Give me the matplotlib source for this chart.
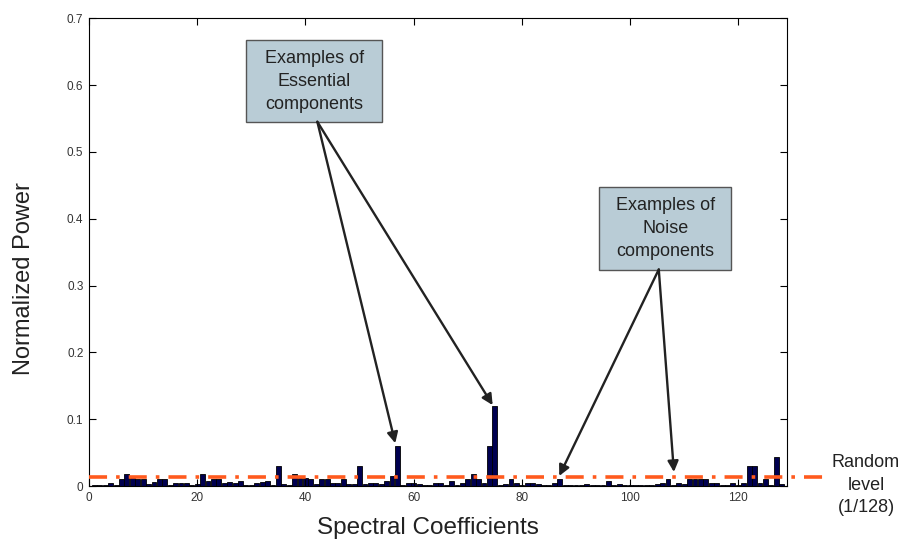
import matplotlib
matplotlib.use('agg')
from matplotlib import pyplot as plt
from matplotlib.patches import Rectangle
import numpy as np

plt.rcParams['font.family'] = ['Liberation Sans', 'DejaVu Sans']

# coefficient index 1..128 and its normalized power
coefficients = np.arange(1, 129)
power = [
    0.002, 0.002, 0.001, 0.004, 0.002, 0.010, 0.018, 0.012, 0.010, 0.010,
    0.003, 0.006, 0.010, 0.010, 0.002, 0.004, 0.004, 0.004, 0.002, 0.003,
    0.018, 0.008, 0.010, 0.010, 0.005, 0.006, 0.004, 0.008, 0.002, 0.002,
    0.004, 0.006, 0.008, 0.002, 0.030, 0.003, 0.002, 0.018, 0.012, 0.012,
    0.010, 0.003, 0.010, 0.010, 0.004, 0.004, 0.010, 0.003, 0.003, 0.030,
    0.003, 0.004, 0.004, 0.003, 0.008, 0.015, 0.060, 0.002, 0.004, 0.004,
    0.003, 0.001, 0.002, 0.004, 0.004, 0.002, 0.008, 0.002, 0.004, 0.010,
    0.018, 0.010, 0.004, 0.060, 0.120, 0.002, 0.003, 0.010, 0.004, 0.002,
    0.004, 0.004, 0.003, 0.001, 0.002, 0.004, 0.010, 0.002, 0.001, 0.001,
    0.002, 0.003, 0.001, 0.001, 0.001, 0.008, 0.002, 0.003, 0.001, 0.002,
    0.002, 0.001, 0.002, 0.001, 0.003, 0.004, 0.010, 0.002, 0.004, 0.003,
    0.010, 0.010, 0.010, 0.010, 0.004, 0.004, 0.002, 0.002, 0.004, 0.002,
    0.004, 0.030, 0.030, 0.004, 0.010, 0.002, 0.043, 0.003,
]
random_level = 0.0135  # drawn where the reference puts the 1/128 line

x_ticks = [0, 20, 40, 60, 80, 100, 120]
y_ticks = [0, 0.1, 0.2, 0.3, 0.4, 0.5, 0.6, 0.7]
y_tick_labels = ['0', '0.1', '0.2', '0.3', '0.4', '0.5', '0.6', '0.7']

fig = plt.figure(figsize=(9.13, 5.44), dpi=100)
ax = fig.add_axes([0.0975, 0.1066, 0.7645, 0.860])

ax.bar(coefficients, power, width=0.9, color='#000050', edgecolor='black', linewidth=0.6)

# random level line, runs past the right edge of the axes
ax.plot([0, 136.5], [random_level, random_level], color='#ff5a1e', lw=2.6,
        linestyle=(0, (5, 2.5, 1, 2.5)), clip_on=False, zorder=5)

ax.set_xlim(0, 129)
ax.set_ylim(0, 0.7)
ax.set_xticks(x_ticks)
ax.set_yticks(y_ticks)
ax.set_yticklabels(y_tick_labels)
ax.tick_params(direction='in', top=True, right=True, length=5, labelsize=8.5,
               labelcolor='#333333', pad=4)
for s in ax.spines.values():
    s.set_linewidth(0.8)

# axis titles sit a bit off-centre in the reference
fig.text(428 / 913, 1 - 528 / 544, 'Spectral Coefficients', ha='center', va='center',
         fontsize=17.5, color='#222222')
fig.text(24 / 913, 1 - 279 / 544, 'Normalized Power', ha='center', va='center',
         fontsize=17, rotation=90, color='#222222')

# annotation boxes (data coords)
for x0, x1, y0, y1 in [(28.97, 54.24, 0.5444, 0.667), (94.28, 118.63, 0.323, 0.4472)]:
    ax.add_patch(Rectangle((x0, y0), x1 - x0, y1 - y0, facecolor='#b9ccd6',
                           edgecolor='#555555', lw=1, zorder=6))
ax.text(41.6, 0.6057, 'Examples of\nEssential\ncomponents', ha='center', va='center',
        fontsize=13, linespacing=1.45, color='#222222', zorder=7)
ax.text(106.5, 0.385, 'Examples of\nNoise\ncomponents', ha='center', va='center',
        fontsize=13, linespacing=1.45, color='#222222', zorder=7)

arrow = dict(arrowstyle='-|>', color='#222222', lw=1.7, mutation_scale=16, shrinkA=0, shrinkB=0)
ax.annotate('', xy=(56.6, 0.064), xytext=(42.2, 0.545), arrowprops=arrow, zorder=8)
ax.annotate('', xy=(74.6, 0.121), xytext=(42.2, 0.545), arrowprops=arrow, zorder=8)
ax.annotate('', xy=(86.9, 0.015), xytext=(105.3, 0.324), arrowprops=arrow, zorder=8)
ax.annotate('', xy=(108.1, 0.021), xytext=(105.3, 0.324), arrowprops=arrow, zorder=8)

fig.text(866 / 913, 1 - 485 / 544, 'Random\nlevel\n(1/128)', ha='center', va='center',
         fontsize=13, linespacing=1.4, color='#222222')

plt.savefig('out.png', dpi=100)
